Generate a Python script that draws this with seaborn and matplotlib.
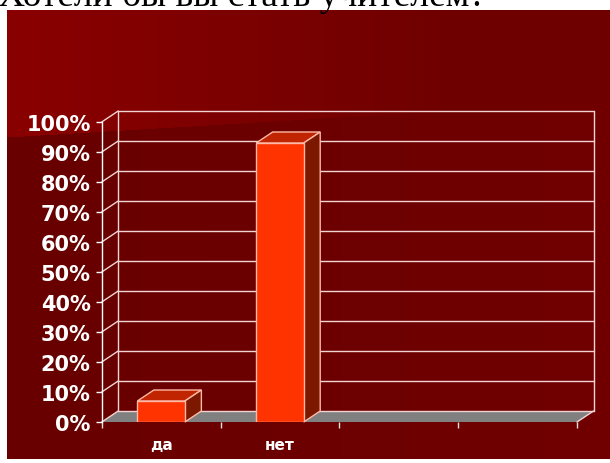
import numpy as np
import pandas as pd
import matplotlib
matplotlib.use("Agg")
import matplotlib.pyplot as plt
from matplotlib.patches import Polygon
import seaborn as sns

# ---- data ----
categories = ["да", "нет"]
values = [7, 93]
all_slots = ["да", "нет", "", ""]
y_ticks = [0, 10, 20, 30, 40, 50, 60, 70, 80, 90, 100]
y_labels = [f"{v}%" for v in y_ticks]
title = "Хотели бы вы стать учителем?"

sns.set_style("white")
plt.rcParams["font.family"] = ["DejaVu Sans"]

W, H = 610, 464
fig = plt.figure(figsize=(W / 100, H / 100), dpi=100, facecolor="white")

# ---- background (dark red gradient with a lighter swoosh) ----
bx0, by0, bx1, by1 = 7, 11, 610, 460
bw, bh = bx1 - bx0, by1 - by0
xs = np.arange(bw)[None, :] + bx0
ys = np.arange(bh)[:, None] + by0
top_t = np.clip((xs - bx0) / 450.0, 0, 1)
top_col = np.array([0x8A, 0, 0]) * (1 - top_t[..., None]) + np.array([0x6F, 0, 0]) * top_t[..., None]
low_t = (xs - bx0) / bw
low_col = np.array([0x68, 0, 0]) * (1 - low_t[..., None]) + np.array([0x71, 0, 0]) * low_t[..., None]
boundary = 138 - 0.06 * (xs - bx0)
mask = (ys < boundary)[..., None]
img = np.where(mask, np.broadcast_to(top_col, (bh, bw, 3)), np.broadcast_to(low_col, (bh, bw, 3))) / 255.0
bg = fig.add_axes([bx0 / W, 1 - by1 / H, bw / W, bh / H])
bg.imshow(img, aspect="auto", interpolation="bilinear")
bg.set_axis_off()

# ---- title, mostly cut off at the top ----
t = fig.text(-2 / W, 1 - 5.5 / H, title, family="Liberation Serif", fontsize=30,
             color="black", va="baseline", ha="left")
fig.canvas.draw()
wpx = t.get_window_extent().width
t.set_fontsize(30 * 488 / wpx)

# ---- main axes = front plane ----
fx0, fx1, fy0, fy1 = 101.7, 577, 123, 423
ax = fig.add_axes([fx0 / W, 1 - fy1 / H, (fx1 - fx0) / W, (fy1 - fy0) / H])
ax.set_facecolor("none")

df = pd.DataFrame({"cat": categories, "val": values})
sns.barplot(data=df, x="cat", y="val", ax=ax, color="#FF3300", width=0.4,
            saturation=1, edgecolor="#FFB8A8", linewidth=1.0, zorder=5)
bars = list(ax.patches)

ax.set_xlim(-0.5, len(all_slots) - 0.5)
ax.set_ylim(0, 100)

# depth offset in data units
px_per_x = (fx1 - fx0) / len(all_slots)
px_per_y = (fy1 - fy0) / 100.0
ddx = 16.5 / px_per_x
ddy = 11.0 / px_per_y
x0, x1 = -0.5, len(all_slots) - 0.5

grid_col = "#F2D4D4"
# floor
ax.add_patch(Polygon([(x0, 0), (x1, 0), (x1 + ddx, ddy), (x0 + ddx, ddy)],
                     closed=True, facecolor="#808080", edgecolor="none",
                     zorder=1, clip_on=False))
ax.plot([x1, x1 + ddx], [0, ddy], color=grid_col, lw=1, zorder=2, clip_on=False)
# back wall gridlines and side wall diagonals
for v in y_ticks:
    ax.plot([x0 + ddx, x1 + ddx], [v + ddy, v + ddy], color=grid_col, lw=1,
            zorder=2, clip_on=False)
    ax.plot([x0, x0 + ddx], [v, v + ddy], color=grid_col, lw=1,
            zorder=2, clip_on=False)
ax.plot([x0 + ddx, x0 + ddx], [ddy, 100 + ddy], color=grid_col, lw=1, zorder=2, clip_on=False)
ax.plot([x1 + ddx, x1 + ddx], [ddy, 100 + ddy], color=grid_col, lw=1, zorder=2, clip_on=False)

# 3D faces of bars
for p in bars:
    bx, bwid, bhgt = p.get_x(), p.get_width(), p.get_height()
    top = Polygon([(bx, bhgt), (bx + bwid, bhgt), (bx + bwid + ddx, bhgt + ddy), (bx + ddx, bhgt + ddy)],
                  closed=True, facecolor="#C02400", edgecolor="#FFB8A8", lw=1.0,
                  zorder=4, clip_on=False)
    side = Polygon([(bx + bwid, 0), (bx + bwid + ddx, ddy), (bx + bwid + ddx, bhgt + ddy), (bx + bwid, bhgt)],
                   closed=True, facecolor="#7C1800", edgecolor="#FFB8A8", lw=1.0,
                   zorder=4, clip_on=False)
    ax.add_patch(top)
    ax.add_patch(side)

# spines
for s in ["top", "right", "bottom"]:
    ax.spines[s].set_visible(False)
ax.spines["left"].set_color("white")
ax.spines["left"].set_linewidth(1)

# y ticks
ax.set_yticks(y_ticks)
ax.set_yticklabels(y_labels)
ax.tick_params(axis="y", left=True, length=4, width=1, color="white", pad=4,
               labelcolor="white", labelsize=15)
for lab in ax.get_yticklabels():
    lab.set_fontweight("bold")

# x ticks: boundaries as major, category labels as minor
ax.set_xticks(np.arange(len(all_slots) + 1) - 0.5)
ax.set_xticklabels([])
ax.set_xticks(np.arange(len(all_slots)), minor=True)
ax.set_xticklabels(all_slots, minor=True)
ax.tick_params(axis="x", which="major", bottom=True, length=4, width=1, color="#E0E0E0")
ax.tick_params(axis="x", which="minor", bottom=True, length=0, pad=11,
               labelcolor="white", labelsize=11)
for lab in ax.get_xticklabels(minor=True):
    lab.set_fontweight("bold")
ax.set_xlabel("")
ax.set_ylabel("")

fig.savefig("out.png", dpi=100, facecolor="white")
